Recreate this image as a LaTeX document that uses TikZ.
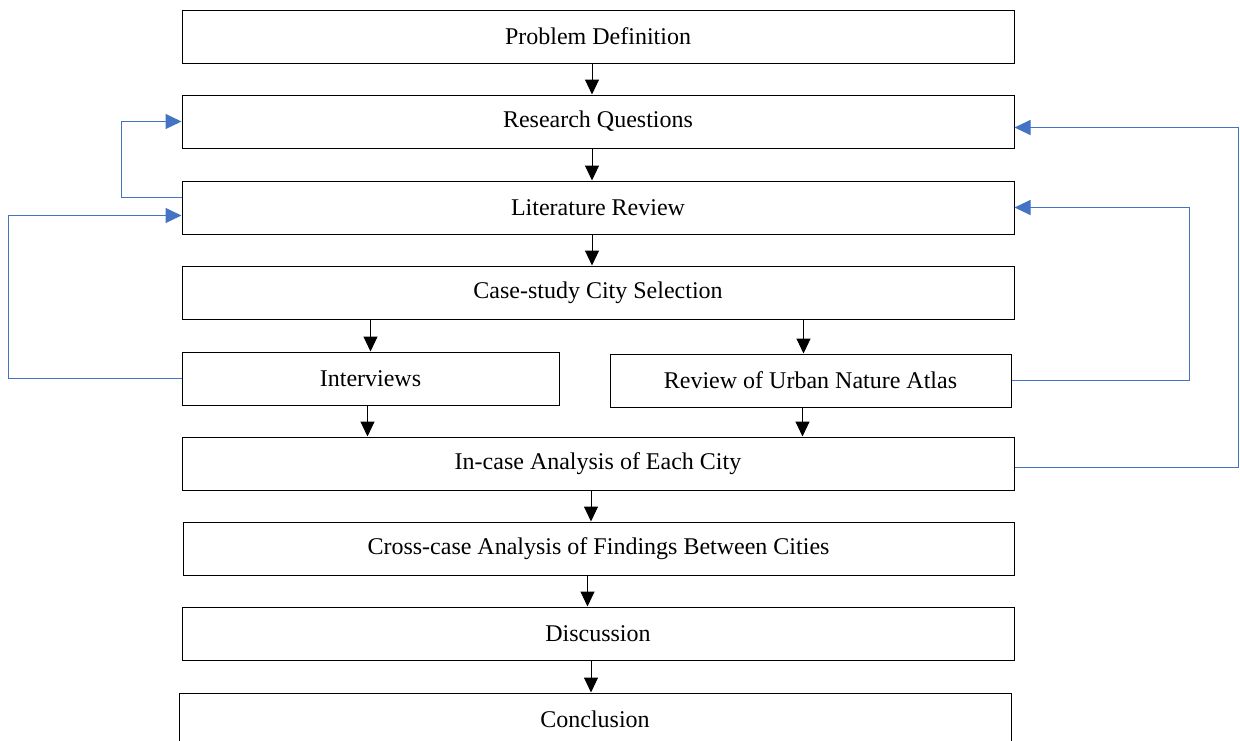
\documentclass[tikz,border=0pt]{standalone}
\usepackage{fontspec}
\setmainfont{Liberation Serif}
\usepackage{tikz}
\usetikzlibrary{arrows.meta}
\definecolor{fbblue}{HTML}{4472C4}

\begin{document}
\begin{tikzpicture}[x=1pt,y=-1pt,
    box/.style={draw,line width=1pt,minimum height=53pt,inner sep=0pt,font=\fontsize{24}{28}\selectfont},
    wide/.style={box,minimum width=832pt},
    arr/.style={line width=1pt,-{Triangle[length=15pt,width=14pt]}},
    fb/.style={fbblue,line width=1pt,-{Triangle[length=16pt,width=15pt]}}]

    \useasboundingbox (0,0) rectangle (1240,740);

    % Gambar kotak langkah utama
    \node[wide] (pd) at (598,36.5) {Problem Definition};
    \node[wide] (rq) at (598,121.5) {Research Questions};
    \node[wide] (lr) at (598,207.5) {Literature Review};
    \node[wide] (cs) at (598,292.5) {Case-study City Selection};
    \node[box,minimum width=377pt] (iv) at (370.5,378.5) {Interviews};
    \node[box,minimum width=401pt] (rv) at (810.5,380.5) {Review of Urban Nature Atlas};
    \node[wide] (ic) at (598,463.5) {In-case Analysis of Each City};
    \node[wide,minimum width=831pt] (cc) at (598.5,548.5) {Cross-case Analysis of Findings Between Cities};
    \node[wide] (dc) at (598,633.5) {Discussion};
    \node[wide] (cn) at (595,719.5) {Conclusion};

    % Gambar panah hitam antar langkah
    \draw[arr] ([xshift=-6pt]pd.south) -- ([xshift=-6pt]rq.north);
    \draw[arr] ([xshift=-6pt]rq.south) -- ([xshift=-6pt]lr.north);
    \draw[arr] ([xshift=-6pt]lr.south) -- ([xshift=-6pt]cs.north);
    \draw[arr] (iv.north |- cs.south) -- (iv.north);
    \draw[arr] ([xshift=-7pt]rv.north |- cs.south) -- ([xshift=-7pt]rv.north);
    \draw[arr] ([xshift=-3pt]iv.south) -- ([xshift=-3pt]iv.south |- ic.north);
    \draw[arr] ([xshift=-8pt]rv.south) -- ([xshift=-8pt]rv.south |- ic.north);
    \draw[arr] ([xshift=-7pt]ic.south) -- ([xshift=-7pt]ic.south |- cc.north);
    \draw[arr] ([xshift=-11pt]cc.south) -- ([xshift=-11pt]cc.south |- dc.north);
    \draw[arr] ([xshift=-7pt]dc.south) -- ([xshift=-7pt]dc.south |- cn.north);

    % Gambar garis umpan balik biru
    \draw[fb] ([yshift=10pt]lr.west) -| ([xshift=-60pt]rq.west) -- (rq.west);
    \draw[fb] (iv.west) -| ([xshift=-173pt,yshift=-8pt]lr.west) -- ([yshift=-8pt]lr.west);
    \draw[fb] (rv.east) -| ([xshift=175pt]lr.east) -- (lr.east);
    \draw[fb] ([yshift=-4pt]ic.east) -| ([xshift=224pt,yshift=-6pt]rq.east) -- ([yshift=-6pt]rq.east);

\end{tikzpicture}
\end{document}
